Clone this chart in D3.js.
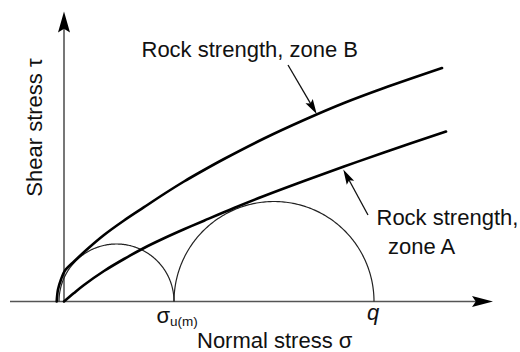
<!DOCTYPE html>
<html>
<head>
<meta charset="utf-8">
<script src="https://cdn.jsdelivr.net/npm/d3@7"></script>
<style>
  html, body { margin: 0; padding: 0; background: #fff; }
  svg { display: block; }
  text { font-family: "Liberation Sans", Arial, Helvetica, sans-serif; fill: #111; }
</style>
</head>
<body>
<script>
// Mohr–Coulomb style diagram: two rock strength envelopes and two Mohr circles.

// Envelope for zone B (normal stress σ, shear stress τ)
const zoneBSigma = [-0.73, -0.6, -0.3, 0.1, 1.0, 2.4, 4.0, 6.0, 8.0, 10.0, 12.0, 14.0, 16.0, 20.0, 24.0, 28.0, 32.0, 37.8];
const zoneBTau   = [0, 1.2, 2.2, 3.1, 4.0, 5.3, 6.65, 8.1, 9.43, 10.75, 12.0, 13.15, 14.25, 16.3, 18.15, 19.85, 21.35, 23.35];

// Envelope for zone A
const zoneASigma = [0, 1, 2, 4, 6, 8, 10, 12, 14, 17, 20, 24, 28, 32, 38.2];
const zoneATau   = [0, 0.85, 1.65, 3.05, 4.25, 5.35, 6.32, 7.22, 8.08, 9.35, 10.55, 12.05, 13.5, 14.9, 17.0];

// Mohr circles given by their minor and major principal stresses
const circleSigma3 = [-0.5, 11.0];
const circleSigma1 = [11.0, 31.0];

// Labelled points on the σ axis
const tickValues = [11.0, 31.0];
const tickLabels = ["σ", "q"];
const tickSubs   = ["u(m)", ""];

// Axis extents
const sigmaExtent = [-5.4, 42.9];
const tauExtent   = [0, 29];

// Annotation arrows: [tail σ, tail τ, tip σ, tip τ]
const arrowB = [22.4, 23.65, 25.27, 18.75];
const arrowA = [30.4, 8.65, 27.93, 13.2];

const W = 520, H = 352;
const svg = d3.select("body").append("svg").attr("width", W).attr("height", H);

// Equal scale on both axes so the circles stay round (10 px per unit)
const x = d3.scaleLinear().domain([0, 31]).range([64, 374]);
const y = d3.scaleLinear().domain([0, 29]).range([301.5, 11.5]);

function arrowHead(x1, y1, x2, y2, len, half) {
  const a = Math.atan2(y2 - y1, x2 - x1);
  const bx = x2 - len * Math.cos(a), by = y2 - len * Math.sin(a);
  const nx = -Math.sin(a) * half, ny = Math.cos(a) * half;
  return `M${x2},${y2}L${bx + nx},${by + ny}L${bx + len * 0.18 * Math.cos(a)},${by + len * 0.18 * Math.sin(a)}L${bx - nx},${by - ny}Z`;
}

// Axes
const axisColor = "#555";
svg.append("line")
  .attr("x1", x(sigmaExtent[0])).attr("y1", y(0))
  .attr("x2", x(sigmaExtent[1]) - 10).attr("y2", y(0))
  .attr("stroke", axisColor).attr("stroke-width", 1.6);
svg.append("path")
  .attr("d", arrowHead(x(sigmaExtent[0]), y(0), x(sigmaExtent[1]), y(0), 21, 5.5))
  .attr("fill", "#000");
svg.append("line")
  .attr("x1", x(0)).attr("y1", y(0))
  .attr("x2", x(0)).attr("y2", y(tauExtent[1]) + 10)
  .attr("stroke", axisColor).attr("stroke-width", 1.6);
svg.append("path")
  .attr("d", arrowHead(x(0), y(0), x(0), y(tauExtent[1]), 21, 6))
  .attr("fill", "#000");

// Mohr circles (upper halves)
const lineGen = d3.line().x(d => x(d[0])).y(d => y(d[1]));
circleSigma3.forEach((s3, i) => {
  const s1 = circleSigma1[i];
  const c = (s1 + s3) / 2, r = (s1 - s3) / 2;
  const pts = d3.range(0, 181).map(deg => {
    const t = Math.PI * deg / 180;
    return [c - r * Math.cos(t), r * Math.sin(t)];
  });
  svg.append("path").attr("d", lineGen(pts))
    .attr("fill", "none").attr("stroke", "#222").attr("stroke-width", 1.2);
});

// Strength envelopes
const curveGen = d3.line().x(d => x(d[0])).y(d => y(d[1])).curve(d3.curveCatmullRom.alpha(0.5));
svg.append("path").attr("d", curveGen(zoneBSigma.map((s, i) => [s, zoneBTau[i]])))
  .attr("fill", "none").attr("stroke", "#000").attr("stroke-width", 2.6).attr("stroke-linecap", "round");
svg.append("path").attr("d", curveGen(zoneASigma.map((s, i) => [s, zoneATau[i]])))
  .attr("fill", "none").attr("stroke", "#000").attr("stroke-width", 2.6).attr("stroke-linecap", "round");

// Annotation arrows
[arrowB, arrowA].forEach(a => {
  const x1 = x(a[0]), y1 = y(a[1]), x2 = x(a[2]), y2 = y(a[3]);
  const ang = Math.atan2(y2 - y1, x2 - x1);
  svg.append("line").attr("x1", x1).attr("y1", y1)
    .attr("x2", x2 - 8 * Math.cos(ang)).attr("y2", y2 - 8 * Math.sin(ang))
    .attr("stroke", "#111").attr("stroke-width", 1.3);
  svg.append("path").attr("d", arrowHead(x1, y1, x2, y2, 15, 4.2)).attr("fill", "#000");
});

// Envelope labels
svg.append("text").attr("x", 141.5).attr("y", 57.3).attr("font-size", 22).text("Rock strength, zone B");
svg.append("text").attr("x", 376.5).attr("y", 225).attr("font-size", 22).text("Rock strength,");
svg.append("text").attr("x", 388).attr("y", 254).attr("font-size", 22).text("zone A");

// Labelled points on the σ axis
tickValues.forEach((v, i) => {
  const t = svg.append("text").attr("font-size", 22);
  if (tickSubs[i]) {
    t.attr("x", x(v) - 17.5).attr("y", 322.5).attr("text-anchor", "start");
    t.append("tspan").text(tickLabels[i]);
    t.append("tspan").attr("font-size", 13.5).attr("dy", 3.5).text(tickSubs[i]);
  } else {
    t.attr("x", x(v) - 1).attr("y", 320).attr("text-anchor", "middle")
      .attr("font-style", "italic").text(tickLabels[i]);
  }
});

// Axis titles
svg.append("text").attr("x", 197).attr("y", 347.5).attr("font-size", 22).text("Normal stress σ");
svg.append("text").attr("transform", "translate(42,127.5) rotate(-90)")
  .attr("text-anchor", "middle").attr("font-size", 22).text("Shear stress τ");
</script>
</body>
</html>
